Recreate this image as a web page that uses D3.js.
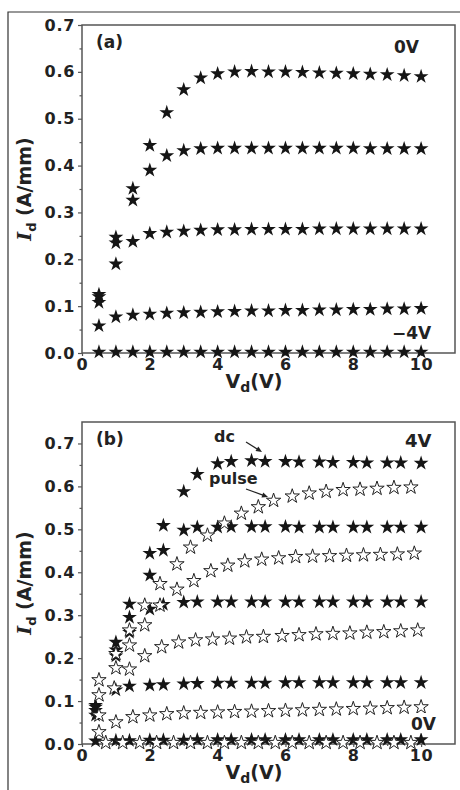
<!DOCTYPE html>
<html>
<head>
<meta charset="utf-8">
<script src="https://cdn.jsdelivr.net/npm/d3@7"></script>
<style>
  html, body { margin: 0; padding: 0; background: #fff; }
  svg { display: block; }
  text { font-family: "DejaVu Sans", Verdana, sans-serif; font-weight: bold; fill: #222; }
</style>
</head>
<body>
<svg id="chart" width="460" height="790"></svg>
<script>
// ---- Panel (a): output curves, VG = 0 V ... -4 V ----
const vdA = [0.5, 1, 1.5, 2, 2.5, 3, 3.5, 4, 4.5, 5, 5.5, 6, 6.5, 7, 7.5, 8, 8.5, 9, 9.5, 10];
const idA_0V  = [0.125, 0.247, 0.351, 0.443, 0.513, 0.562, 0.587, 0.596, 0.600, 0.601, 0.600, 0.600, 0.599, 0.598, 0.597, 0.596, 0.595, 0.594, 0.592, 0.590];
const idA_m1V = [0.120, 0.235, 0.326, 0.390, 0.421, 0.432, 0.436, 0.437, 0.437, 0.437, 0.437, 0.437, 0.437, 0.437, 0.437, 0.437, 0.436, 0.436, 0.436, 0.436];
const idA_m2V = [0.108, 0.190, 0.238, 0.255, 0.258, 0.260, 0.262, 0.263, 0.263, 0.264, 0.264, 0.264, 0.264, 0.265, 0.265, 0.265, 0.265, 0.265, 0.265, 0.265];
const idA_m3V = [0.058, 0.077, 0.081, 0.083, 0.085, 0.086, 0.087, 0.088, 0.089, 0.090, 0.090, 0.091, 0.091, 0.092, 0.092, 0.093, 0.093, 0.094, 0.094, 0.095];
const idA_m4V = [0.002, 0.002, 0.002, 0.002, 0.002, 0.002, 0.002, 0.002, 0.002, 0.002, 0.002, 0.002, 0.002, 0.002, 0.002, 0.002, 0.002, 0.002, 0.002, 0.002];

// ---- Panel (b): dc vs pulsed curves, VG = 4 V ... 0 V ----
const vdDc = [0.4, 1, 1.4, 2, 2.4, 3, 3.4, 4, 4.4, 5, 5.4, 6, 6.4, 7, 7.4, 8, 8.4, 9, 9.4, 10];
const dc4V = [0.090, 0.237, 0.326, 0.444, 0.509, 0.588, 0.628, 0.653, 0.658, 0.660, 0.658, 0.658, 0.657, 0.657, 0.656, 0.656, 0.655, 0.655, 0.655, 0.654];
const dc3V = [0.086, 0.219, 0.295, 0.393, 0.451, 0.498, 0.505, 0.505, 0.506, 0.506, 0.506, 0.506, 0.505, 0.505, 0.505, 0.505, 0.505, 0.505, 0.505, 0.505];
const dc2V = [0.078, 0.205, 0.260, 0.314, 0.325, 0.330, 0.331, 0.331, 0.331, 0.331, 0.331, 0.331, 0.331, 0.331, 0.331, 0.331, 0.331, 0.331, 0.331, 0.331];
const dc1V = [0.067, 0.126, 0.135, 0.137, 0.138, 0.140, 0.141, 0.142, 0.142, 0.142, 0.142, 0.143, 0.143, 0.143, 0.143, 0.143, 0.143, 0.143, 0.143, 0.143];
const dc0V = [0.007, 0.008, 0.008, 0.009, 0.009, 0.009, 0.010, 0.010, 0.010, 0.010, 0.010, 0.010, 0.010, 0.010, 0.010, 0.010, 0.010, 0.010, 0.010, 0.010];

const vdP4 = [0.5, 1.0, 1.4, 1.85, 2.3, 2.8, 3.2, 3.7, 4.2, 4.7, 5.2, 5.65, 6.2, 6.7, 7.2, 7.7, 8.2, 8.7, 9.2, 9.7];
const p4V  = [0.149, 0.210, 0.265, 0.323, 0.373, 0.419, 0.458, 0.486, 0.514, 0.537, 0.552, 0.567, 0.577, 0.584, 0.588, 0.592, 0.593, 0.595, 0.597, 0.598];
const vdP3 = [0.5, 1.0, 1.4, 1.85, 2.3, 2.8, 3.3, 3.8, 4.3, 4.8, 5.3, 5.8, 6.3, 6.8, 7.3, 7.8, 8.3, 8.8, 9.3, 9.8];
const p3V  = [0.114, 0.177, 0.230, 0.277, 0.323, 0.360, 0.380, 0.403, 0.416, 0.426, 0.430, 0.433, 0.436, 0.437, 0.438, 0.439, 0.440, 0.441, 0.442, 0.444];
const vdP2 = [0.5, 0.95, 1.4, 1.85, 2.35, 2.85, 3.35, 3.85, 4.35, 4.85, 5.35, 5.9, 6.4, 6.9, 7.4, 7.9, 8.4, 8.9, 9.4, 9.9];
const p2V  = [0.067, 0.130, 0.174, 0.205, 0.226, 0.237, 0.242, 0.244, 0.246, 0.249, 0.250, 0.252, 0.254, 0.256, 0.257, 0.258, 0.260, 0.261, 0.263, 0.265];
const vdP1 = [0.5, 1, 1.5, 2, 2.5, 3, 3.5, 4, 4.5, 5, 5.5, 6, 6.5, 7, 7.5, 8, 8.5, 9, 9.5, 10];
const p1V  = [0.028, 0.051, 0.063, 0.067, 0.070, 0.072, 0.073, 0.074, 0.075, 0.076, 0.077, 0.078, 0.079, 0.080, 0.081, 0.082, 0.083, 0.084, 0.085, 0.086];
const vdP0 = [0.7, 1.2, 1.7, 2.2, 2.7, 3.2, 3.7, 4.2, 4.7, 5.2, 5.7, 6.2, 6.7, 7.2, 7.7, 8.2, 8.7, 9.2, 9.7];
const p0V  = [0.003, 0.003, 0.003, 0.003, 0.003, 0.003, 0.003, 0.003, 0.003, 0.003, 0.003, 0.003, 0.003, 0.003, 0.003, 0.003, 0.003, 0.003, 0.003];

// axis ticks
const xTicks = [0, 2, 4, 6, 8, 10];
const yTicksA = [0, 0.1, 0.2, 0.3, 0.4, 0.5, 0.6, 0.7];
const yTicksB = [0, 0.1, 0.2, 0.3, 0.4, 0.5, 0.6, 0.7];

const svg = d3.select("#chart");

// outer figure frame
svg.append("path")
  .attr("d", "M8,790 L8,12 L460,12")
  .attr("fill", "none").attr("stroke", "#333").attr("stroke-width", 1.2);

const starFilled = d3.symbol().type(d3.symbolStar).size(68)();
const starOpen = d3.symbol().type(d3.symbolStar).size(64)();

function panel(cfg) {
  const x = d3.scaleLinear().domain([0, 11]).range([cfg.left, cfg.right]);
  const y = d3.scaleLinear().domain([0, cfg.yMax]).range([cfg.bottom, cfg.top]);
  const g = svg.append("g");

  // axes
  const yAxis = d3.axisLeft(y).tickValues(cfg.yTicks).tickFormat(d3.format(".1f")).tickSize(4).tickPadding(3);
  const yMinor = d3.axisLeft(y).tickValues(d3.range(0.05, cfg.yMax, 0.1)).tickFormat("").tickSize(2.5);
  const xAxis = d3.axisBottom(x).tickValues(xTicks).tickFormat(d3.format("d")).tickSize(3).tickPadding(3);
  const xMinor = d3.axisBottom(x).tickValues([1, 3, 5, 7, 9]).tickFormat("").tickSize(2);

  [yMinor, yAxis].forEach(a => {
    const ga = g.append("g").attr("transform", `translate(${cfg.left},0)`).call(a);
    ga.select(".domain").remove();
    ga.selectAll("line").attr("stroke", "#555").attr("stroke-width", 1.2);
  });
  [xMinor, xAxis].forEach(a => {
    const ga = g.append("g").attr("transform", `translate(0,${cfg.bottom})`).call(a);
    ga.select(".domain").remove();
    ga.selectAll("line").attr("stroke", "#555").attr("stroke-width", 1.2);
  });
  g.selectAll(".tick text")
    .style("font-family", '"DejaVu Sans", Verdana, sans-serif')
    .style("font-weight", "bold")
    .style("font-size", "16px")
    .style("letter-spacing", "0.7px")
    .attr("fill", "#222");

  // plot frame
  g.append("rect")
    .attr("x", cfg.left).attr("y", cfg.top)
    .attr("width", cfg.right - cfg.left).attr("height", cfg.bottom - cfg.top)
    .attr("fill", "none").attr("stroke", "#555").attr("stroke-width", 1.5);

  // axis titles
  const yt = g.append("text")
    .attr("transform", `translate(${cfg.yTitleX},${(cfg.top + cfg.bottom) / 2 + cfg.yTitleDy}) rotate(-90)`)
    .attr("text-anchor", "middle")
    .style("font-size", "19px");
  yt.append("tspan").text("I")
    .style("font-family", '"DejaVu Serif", serif').style("font-style", "italic");
  yt.append("tspan").text("d").attr("dy", 5).style("font-size", "13px")
    .style("font-family", '"DejaVu Sans", sans-serif');
  yt.append("tspan").text(" (A/mm)").attr("dy", -5);

  const xt = g.append("text")
    .attr("x", cfg.xTitleX).attr("y", cfg.bottom + 35)
    .attr("text-anchor", "middle")
    .style("font-size", "19px");
  xt.append("tspan").text("V");
  xt.append("tspan").text("d").attr("dy", 4).style("font-size", "14px");
  xt.append("tspan").text("(V)").attr("dy", -4);

  return { x, y, g };
}

function drawStars(p, xs, ys, open) {
  const pts = xs.map((v, i) => [v, ys[i]]);
  p.g.append("g").selectAll("path")
    .data(pts).join("path")
    .attr("transform", d => `translate(${p.x(d[0])},${p.y(d[1])})`)
    .attr("d", open ? starOpen : starFilled)
    .attr("fill", open ? "#fff" : "#151515")
    .attr("stroke", open ? "#222" : "none")
    .attr("stroke-width", open ? 1 : 0);
}

// ---------- Panel (a) ----------
const pa = panel({ left: 82, right: 455, top: 25, bottom: 353, yMax: 0.7, yTicks: yTicksA,
                   yTitleX: 31, yTitleDy: 0, xTitleX: 254 });
[idA_m4V, idA_m3V, idA_m2V, idA_m1V, idA_0V].forEach(s => drawStars(pa, vdA, s, false));

pa.g.append("text").attr("x", 96).attr("y", 48).style("font-size", "17px").text("(a)");
pa.g.append("text").attr("x", 394).attr("y", 53).style("font-size", "17px").text("0V");
pa.g.append("text").attr("x", 392).attr("y", 339).style("font-size", "17px").text("\u22124V");

// ---------- Panel (b) ----------
const pb = panel({ left: 82, right: 455, top: 422, bottom: 744, yMax: 0.75, yTicks: yTicksB,
                   yTitleX: 31, yTitleDy: 0, xTitleX: 254 });
[dc0V, dc1V, dc2V, dc3V, dc4V].forEach(s => drawStars(pb, vdDc, s, false));
drawStars(pb, vdP0, p0V, true);
drawStars(pb, vdP1, p1V, true);
drawStars(pb, vdP2, p2V, true);
drawStars(pb, vdP3, p3V, true);
drawStars(pb, vdP4, p4V, true);

pb.g.append("text").attr("x", 96).attr("y", 445).style("font-size", "17px").text("(b)");
pb.g.append("text").attr("x", 405).attr("y", 447).style("font-size", "18px").text("4V");
pb.g.append("text").attr("x", 214).attr("y", 442).style("font-size", "16px").text("dc");
pb.g.append("text").attr("x", 209).attr("y", 484).style("font-size", "16px").text("pulse");

// bottom label sits on a white patch over the markers
pb.g.append("rect").attr("x", 410).attr("y", 713).attr("width", 27).attr("height", 20).attr("fill", "#fff");
pb.g.append("text").attr("x", 411).attr("y", 730).style("font-size", "17px").text("0V");

// pointer arrows for the dc and pulse labels
function arrow(x1, y1, x2, y2) {
  const ang = Math.atan2(y2 - y1, x2 - x1);
  const L = 6, W = 2.6;
  pb.g.append("line").attr("x1", x1).attr("y1", y1).attr("x2", x2 - Math.cos(ang) * L * 0.8).attr("y2", y2 - Math.sin(ang) * L * 0.8)
    .attr("stroke", "#222").attr("stroke-width", 1.2);
  const bx = x2 - Math.cos(ang) * L, by = y2 - Math.sin(ang) * L;
  const pts = [[x2, y2],
               [bx + Math.sin(ang) * W, by - Math.cos(ang) * W],
               [bx - Math.sin(ang) * W, by + Math.cos(ang) * W]];
  pb.g.append("path").attr("d", "M" + pts.map(p => p.join(",")).join("L") + "Z").attr("fill", "#222");
}
arrow(246, 442, 262, 452);
arrow(246, 489, 268, 497);
</script>
</body>
</html>
